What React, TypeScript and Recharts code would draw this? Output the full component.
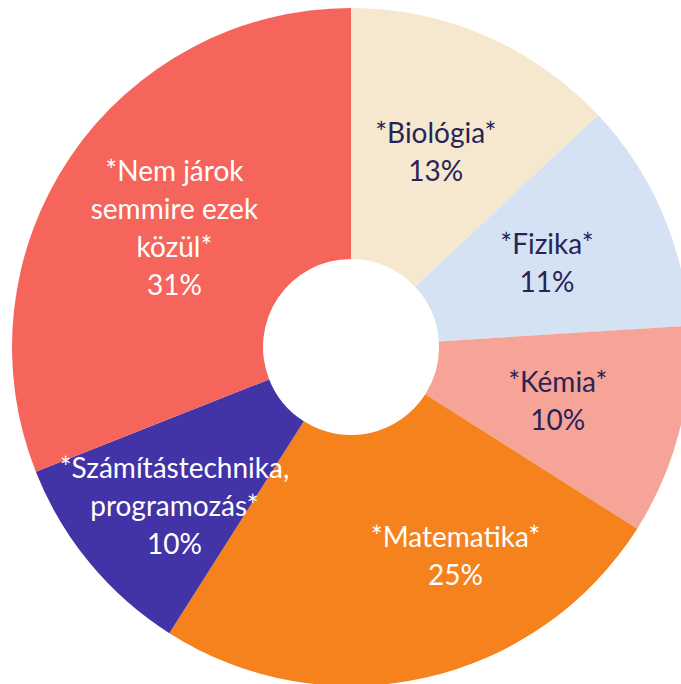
import React from 'react';
import { PieChart, Pie, Cell } from 'recharts';

const subjects = ['Biológia', 'Fizika', 'Kémia', 'Matematika', 'Számítástechnika, programozás', 'Nem járok semmire ezek közül'];
const labelLines = [
  ['*Biológia*'],
  ['*Fizika*'],
  ['*Kémia*'],
  ['*Matematika*'],
  ['*Számítástechnika,', 'programozás*'],
  ['*Nem járok', 'semmire ezek', 'közül*'],
];
const shares = [13, 11, 10, 25, 10, 31];

const COLORS = ['#F6E7CF', '#D4E2F3', '#F5A497', '#F6821E', '#4234A6', '#F5655B'];
const TEXT_COLORS = ['#282457', '#282457', '#282457', '#FFFFFF', '#FFFFFF', '#FFFFFF'];

// excel moved a couple of labels off the ring midpoint
const NUDGE: { [k: number]: [number, number] } = { 3: [58, 0], 4: [-12, 22] };

const data = subjects.map((name, i) => ({ name, value: shares[i] }));

const RAD = Math.PI / 180;
const LINE = 38;

const renderLabel = (props: any) => {
  const { cx, cy, midAngle, innerRadius, outerRadius, index, value } = props;
  const r = (innerRadius + outerRadius) / 2;
  const nudge = NUDGE[index] || [0, 0];
  const x = cx + r * Math.cos(-midAngle * RAD) + nudge[0];
  const y = cy + r * Math.sin(-midAngle * RAD) + nudge[1];
  const lines = [...labelLines[index], `${value}%`];
  const top = y - ((lines.length - 1) * LINE) / 2;
  return (
    <text
      x={x}
      y={top}
      fill={TEXT_COLORS[index]}
      textAnchor="middle"
      dominantBaseline="central"
      fontSize={28}
      fontFamily="Lato, 'Open Sans', sans-serif"
    >
      {lines.map((l, i) => (
        <tspan key={i} x={x} y={top + i * LINE}>{l}</tspan>
      ))}
    </text>
  );
};

const App: React.FC = () => {
  return (
    <div style={{ position: 'absolute', left: 0, top: 0, width: 681, height: 684, background: '#fff', overflow: 'hidden' }}>
      <PieChart width={681} height={684} margin={{ top: 0, right: 0, bottom: 0, left: 0 }}>
        <Pie
          data={data}
          dataKey="value"
          cx={351}
          cy={347}
          innerRadius={88}
          outerRadius={339}
          startAngle={90}
          endAngle={-270}
          stroke="none"
          labelLine={false}
          label={renderLabel}
          isAnimationActive={false}
        >
          {data.map((entry, index) => (
            <Cell key={`cell-${index}`} fill={COLORS[index]} />
          ))}
        </Pie>
      </PieChart>
    </div>
  );
};

export default App;
